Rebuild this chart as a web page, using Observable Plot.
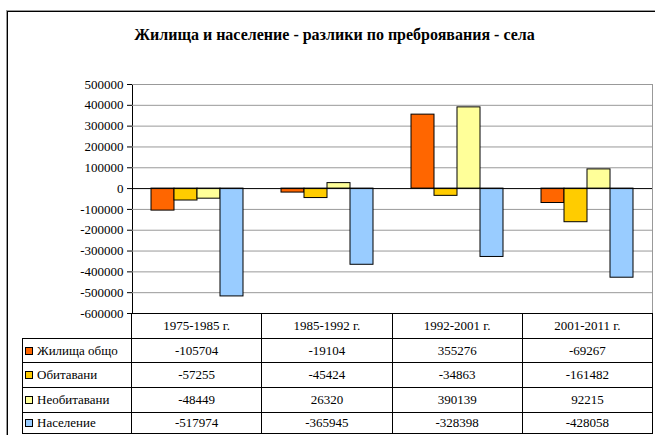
<!DOCTYPE html>
<html>
<head>
<meta charset="utf-8">
<script src="https://cdn.jsdelivr.net/npm/d3@7"></script>
<script src="https://cdn.jsdelivr.net/npm/@observablehq/plot@0.6"></script>
<style>
  html, body { margin: 0; padding: 0; background: #fff; }
  #wrap { position: relative; width: 655px; height: 435px; overflow: hidden; font-family: "Liberation Serif", Tinos, "DejaVu Serif", "Noto Serif", serif; color: #000; }
  #frame { position: absolute; left: 7px; top: 11px; width: 700px; height: 500px; border-left: 1px solid #000; border-top: 1px solid #000; box-shadow: -1px -1px 0 #9a9a9a; }
  #title { position: absolute; left: 7px; width: 655px; top: 27px; line-height: 16px; text-align: center; font-weight: bold; font-size: 16px; white-space: nowrap; }
  #chart { position: absolute; left: 0; top: 0; }
  #chart svg text { font-family: "Liberation Serif", Tinos, "DejaVu Serif", "Noto Serif", serif; font-size: 13px; }
  #tbl { position: absolute; left: 22px; top: 313px; border-collapse: collapse; table-layout: fixed; width: 630px; font-size: 13px; }
  #tbl td { border: 1px solid #000; padding: 0; text-align: center; white-space: nowrap; overflow: hidden; }
  #tbl td.corner { border: none; }
  #tbl td.leg { text-align: left; padding-left: 2px; }
  .sw { display: inline-block; width: 6px; height: 6px; border: 1px solid #000; margin-right: 4px; vertical-align: 0px; }
</style>
</head>
<body>
<div id="wrap">
  <div id="frame"></div>
  <div id="title"></div>
  <div id="chart"></div>
  <table id="tbl"></table>
</div>
<script>
const titleText = "Жилища и население - разлики по преброявания - села";
const categories = ["1975-1985 г.", "1985-1992 г.", "1992-2001 г.", "2001-2011 г."];
const series = ["Жилища общо", "Обитавани", "Необитавани", "Население"];
const housingTotal = [-105704, -19104, 355276, -69267];
const occupied = [-57255, -45424, -34863, -161482];
const unoccupied = [-48449, 26320, 390139, 92215];
const population = [-517974, -365945, -328398, -428058];
const yTicks = [500000, 400000, 300000, 200000, 100000, 0, -100000, -200000, -300000, -400000, -500000, -600000];
const colors = ["#FF6600", "#FFCC00", "#FFFF99", "#99CCFF"];

const seriesValues = [housingTotal, occupied, unoccupied, population];
const data = [];
categories.forEach((c, i) => {
  series.forEach((s, j) => data.push({cat: c, series: s, value: seriesValues[j][i]}));
});

document.getElementById("title").textContent = titleText;

const chart = Plot.plot({
  width: 655,
  height: 314,
  marginLeft: 131,
  marginRight: 3,
  marginTop: 84,
  marginBottom: 1,
  style: {background: "transparent", fontSize: "13px", color: "#000", overflow: "visible"},
  fx: {domain: categories, padding: 0, axis: null},
  x: {domain: series, paddingInner: 0, paddingOuter: 0.8, axis: null},
  y: {domain: [-600000, 500000], ticks: yTicks, tickFormat: d => String(d), tickSize: 5, tickPadding: 4, label: null, line: true},
  color: {domain: series, range: colors},
  marks: [
    Plot.ruleY(yTicks.filter(d => d !== 0 && d !== -600000), {stroke: "#999", strokeWidth: 1}),
    Plot.barY(data, {fx: "cat", x: "series", y: "value", fill: "series", stroke: "#000", strokeWidth: 1}),
    Plot.ruleY([0], {stroke: "#000", strokeWidth: 1})
  ]
});
document.getElementById("chart").appendChild(chart);

// right border of plot area, from the library's scales
const fxRange = chart.scale("fx").range;
const yRange = chart.scale("y").range;
d3.select(chart).append("line")
  .attr("x1", fxRange[1] + 0.5).attr("x2", fxRange[1] + 0.5)
  .attr("y1", Math.min(...yRange)).attr("y2", Math.max(...yRange))
  .attr("stroke", "#999");

// data table
const tbl = d3.select("#tbl");
const colgroup = tbl.append("colgroup");
colgroup.append("col").style("width", (fxRange[0] - 22) + "px");
const bw = (fxRange[1] - fxRange[0]) / categories.length;
categories.forEach(() => colgroup.append("col").style("width", bw + "px"));
const head = tbl.append("tr").style("height", "25px");
head.append("td").attr("class", "corner");
categories.forEach(c => head.append("td").text(c));
const rowHeights = [24, 25, 25, 21];
series.forEach((s, j) => {
  const tr = tbl.append("tr").style("height", rowHeights[j] + "px");
  const td = tr.append("td").attr("class", "leg");
  td.append("span").attr("class", "sw").style("background", colors[j]);
  td.append("span").text(s);
  seriesValues[j].forEach(v => tr.append("td").text(String(v)));
});
</script>
</body>
</html>
